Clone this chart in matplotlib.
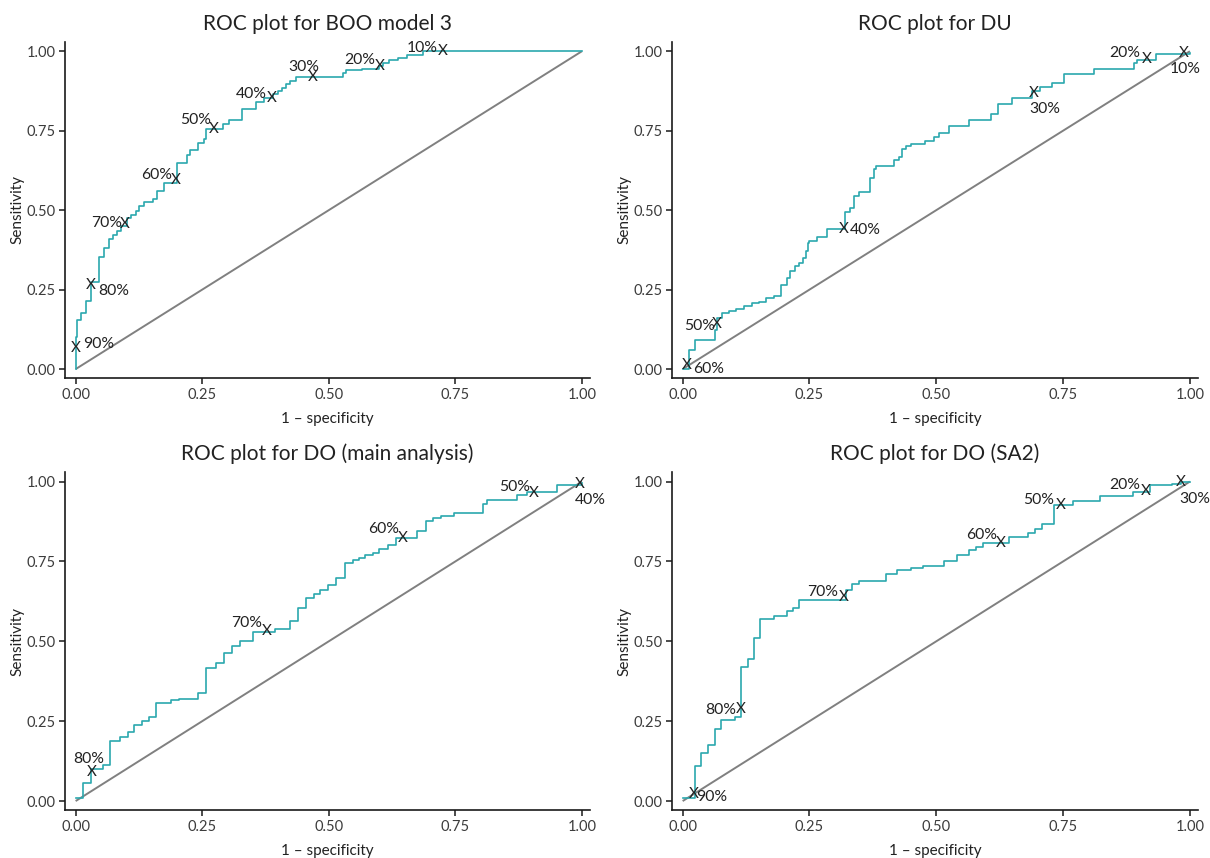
import matplotlib
matplotlib.use("Agg")
import matplotlib.pyplot as plt

plt.rcParams["font.family"] = ["Lato", "DejaVu Sans"]

# ---- ROC step curves: (1 - specificity, sensitivity) vertices ----
boo_fpr = [0, 0, 0.003, 0.011, 0.020, 0.031, 0.046, 0.056, 0.066, 0.074, 0.082, 0.090,
           0.102, 0.110, 0.119, 0.126, 0.136, 0.153, 0.161, 0.174, 0.200, 0.220, 0.225,
           0.242, 0.253, 0.257, 0.291, 0.303, 0.329, 0.357, 0.373, 0.390, 0.400, 0.408,
           0.416, 0.424, 0.436, 0.528, 0.534, 0.565, 0.600, 0.607, 0.619, 0.637, 0.655,
           0.686, 1.0]
boo_tpr = [0, 0.102, 0.155, 0.176, 0.215, 0.273, 0.352, 0.381, 0.409, 0.421, 0.435, 0.449,
           0.475, 0.486, 0.498, 0.512, 0.525, 0.535, 0.559, 0.586, 0.649, 0.672, 0.689,
           0.712, 0.725, 0.754, 0.770, 0.783, 0.819, 0.840, 0.854, 0.864, 0.875, 0.885,
           0.896, 0.906, 0.919, 0.933, 0.941, 0.945, 0.954, 0.962, 0.973, 0.980, 0.988,
           1.0, 1.0]
boo_cut_fpr = [0.0, 0.029, 0.097, 0.198, 0.273, 0.387, 0.468, 0.600, 0.726]
boo_cut_tpr = [0.066, 0.265, 0.457, 0.594, 0.754, 0.852, 0.919, 0.952, 1.0]
boo_cut_labels = ["90%", "80%", "70%", "60%", "50%", "40%", "30%", "20%", "10%"]
boo_label_offsets = [(22.7, 4), (23.5, -5.8), (-18.3, 1.2), (-19.7, 5.2), (-17.7, 9.2),
                     (-20.7, 4), (-8.7, 10.2), (-19.2, 6.5), (-21.3, 2.9)]

du_fpr = [0, 0.012, 0.024, 0.063, 0.067, 0.078, 0.091, 0.106, 0.121, 0.137, 0.150, 0.165,
          0.180, 0.194, 0.205, 0.211, 0.221, 0.229, 0.238, 0.244, 0.247, 0.250, 0.264,
          0.285, 0.321, 0.329, 0.337, 0.348, 0.369, 0.378, 0.382, 0.416, 0.426, 0.433,
          0.441, 0.450, 0.478, 0.496, 0.505, 0.526, 0.564, 0.608, 0.621, 0.649, 0.689,
          0.705, 0.728, 0.752, 0.811, 0.889, 0.895, 0.934, 1.0]
du_tpr = [0, 0.060, 0.091, 0.123, 0.160, 0.178, 0.183, 0.188, 0.199, 0.209, 0.212, 0.223,
          0.230, 0.265, 0.286, 0.310, 0.323, 0.335, 0.349, 0.370, 0.397, 0.404, 0.415,
          0.442, 0.493, 0.507, 0.544, 0.556, 0.602, 0.630, 0.638, 0.657, 0.668, 0.693,
          0.701, 0.707, 0.719, 0.731, 0.744, 0.764, 0.785, 0.801, 0.833, 0.854, 0.875,
          0.889, 0.901, 0.927, 0.945, 0.964, 0.973, 0.991, 0.996]
du_cut_fpr = [0.008, 0.067, 0.318, 0.692, 0.916, 0.987]
du_cut_tpr = [0.013, 0.142, 0.442, 0.870, 0.976, 0.996]
du_cut_labels = ["60%", "50%", "40%", "30%", "20%", "10%"]
du_label_offsets = [(22.3, -4.2), (-16.8, -1.8), (21.7, -1.5), (11.3, -16.7), (-22.7, 6),
                    (2, -16.7)]

do_fpr = [0, 0.014, 0.031, 0.054, 0.067, 0.087, 0.103, 0.115, 0.132, 0.145, 0.159, 0.189,
          0.204, 0.242, 0.258, 0.278, 0.294, 0.308, 0.324, 0.350, 0.393, 0.423, 0.439,
          0.455, 0.470, 0.482, 0.499, 0.515, 0.532, 0.547, 0.560, 0.571, 0.588, 0.599,
          0.617, 0.632, 0.675, 0.692, 0.705, 0.721, 0.747, 0.804, 0.813, 0.871, 0.891,
          0.951, 1.0]
do_tpr = [0.011, 0.057, 0.099, 0.114, 0.187, 0.202, 0.215, 0.237, 0.251, 0.263, 0.307, 0.315,
          0.321, 0.338, 0.416, 0.431, 0.464, 0.485, 0.502, 0.528, 0.540, 0.564, 0.604,
          0.637, 0.649, 0.662, 0.677, 0.699, 0.745, 0.755, 0.761, 0.769, 0.776, 0.789,
          0.800, 0.824, 0.846, 0.878, 0.886, 0.893, 0.902, 0.931, 0.943, 0.958, 0.966,
          0.990, 0.995]
do_cut_fpr = [0.031, 0.378, 0.647, 0.905, 0.995]
do_cut_tpr = [0.092, 0.533, 0.824, 0.964, 0.992]
do_cut_labels = ["80%", "70%", "60%", "50%", "40%"]
do_label_offsets = [(-2.2, 13), (-20.6, 7.7), (-19.1, 8.5), (-19, 6), (10.7, -15.9)]

sa2_fpr = [0, 0.025, 0.037, 0.050, 0.063, 0.076, 0.103, 0.116, 0.128, 0.140, 0.153, 0.181,
           0.206, 0.218, 0.229, 0.322, 0.333, 0.347, 0.400, 0.423, 0.450, 0.474, 0.515,
           0.540, 0.565, 0.579, 0.592, 0.644, 0.681, 0.694, 0.709, 0.732, 0.770, 0.822,
           0.887, 0.922, 0.964, 0.982, 1.0]
sa2_tpr = [0.008, 0.110, 0.149, 0.176, 0.227, 0.253, 0.262, 0.419, 0.445, 0.511, 0.571, 0.579,
           0.594, 0.605, 0.630, 0.662, 0.680, 0.688, 0.710, 0.724, 0.731, 0.737, 0.751,
           0.769, 0.787, 0.795, 0.808, 0.827, 0.839, 0.853, 0.867, 0.926, 0.940, 0.955,
           0.968, 0.989, 0.994, 1.0, 1.0]
sa2_cut_fpr = [0.022, 0.114, 0.318, 0.627, 0.745, 0.913, 0.982]
sa2_cut_tpr = [0.023, 0.288, 0.638, 0.808, 0.926, 0.971, 1.0]
sa2_cut_labels = ["90%", "80%", "70%", "60%", "50%", "20%", "30%"]
sa2_label_offsets = [(17.9, -3.1), (-19.5, -1), (-21, 5.5), (-19, 7.7), (-21.7, 5.3),
                     (-21, 6.2), (14.3, -17.3)]

titles = ["ROC plot for BOO model 3", "ROC plot for DU",
          "ROC plot for DO (main analysis)", "ROC plot for DO (SA2)"]
tick_values = [0.0, 0.25, 0.50, 0.75, 1.0]
tick_labels = ["0.00", "0.25", "0.50", "0.75", "1.00"]

curve_color = "#2BA8AE"
ref_color = "#808080"
text_color = "#222222"
tick_color = "#3C3C3C"

panels = [
    (boo_fpr, boo_tpr, boo_cut_fpr, boo_cut_tpr, boo_cut_labels, boo_label_offsets),
    (du_fpr, du_tpr, du_cut_fpr, du_cut_tpr, du_cut_labels, du_label_offsets),
    (do_fpr, do_tpr, do_cut_fpr, do_cut_tpr, do_cut_labels, do_label_offsets),
    (sa2_fpr, sa2_tpr, sa2_cut_fpr, sa2_cut_tpr, sa2_cut_labels, sa2_label_offsets),
]

W, H = 1210, 858
fig = plt.figure(figsize=(W / 100, H / 100), dpi=100)

# axes rectangles in pixels: left, top, right, bottom
rects = [(65, 41.7, 590, 378), (672, 41.7, 1198, 378),
         (65, 472, 590, 810), (672, 472, 1198, 810)]

for (l, t, r, b), title, (fpr, tpr, cfpr, ctpr, clab, coff) in zip(rects, titles, panels):
    ax = fig.add_axes([l / W, 1 - b / H, (r - l) / W, (b - t) / H])
    ax.plot([0, 1], [0, 1], color=ref_color, lw=1.4, solid_capstyle="butt", zorder=2)
    ax.plot(fpr, tpr, color=curve_color, lw=1.2, drawstyle="steps-post", zorder=3)
    for x, y, lab, (dx, dy) in zip(cfpr, ctpr, clab, coff):
        ax.text(x, y, "X", ha="center", va="center", fontsize=11,
                color=text_color, zorder=4)
        ax.annotate(lab, xy=(x, y), xytext=(dx, dy), textcoords="offset pixels",
                    ha="center", va="center", fontsize=11.3, color=text_color, zorder=4)

    ax.set_xlim(-0.021, 1.016)
    ax.set_ylim(-0.028, 1.030)
    ax.set_xticks(tick_values)
    ax.set_xticklabels(tick_labels)
    ax.set_yticks(tick_values)
    ax.set_yticklabels(tick_labels)
    for side in ("top", "right"):
        ax.spines[side].set_visible(False)
    for side in ("left", "bottom"):
        ax.spines[side].set_linewidth(1.2)
        ax.spines[side].set_color("#1a1a1a")
    ax.tick_params(axis="both", direction="out", length=4.5, width=1.1,
                   color="#1a1a1a", labelsize=10.5, labelcolor=tick_color, pad=2.5)
    ax.set_xlabel("1 \u2013 specificity", fontsize=11, color=text_color, labelpad=7.5)
    ax.set_ylabel("Sensitivity", fontsize=11, color=text_color, labelpad=1.5)
    ax.set_title(title, fontsize=15, color=text_color, pad=8.4)

fig.savefig("out.png", dpi=100)
